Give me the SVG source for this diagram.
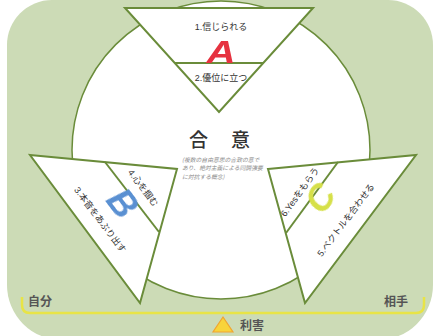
<svg xmlns="http://www.w3.org/2000/svg" width="435" height="336" viewBox="0 0 435 336">
<defs>
<style>
.tri{fill:#fff;stroke:#6a8c3a;stroke-width:2;stroke-linejoin:miter}
.div{fill:none;stroke:#6a8c3a;stroke-width:2}
.lbl{font-family:"Liberation Sans","Noto Sans CJK JP",sans-serif;font-size:9px;fill:#333;text-anchor:middle;dominant-baseline:central}
.big{font-family:"Noto Sans CJK JP",sans-serif;font-size:19px;fill:#333;font-weight:500}
.note{font-family:"Noto Sans CJK JP",sans-serif;font-size:5.8px;fill:#8a8a8a;font-style:italic}
.axis{font-family:"Noto Sans CJK JP",sans-serif;font-size:12px;fill:#555;font-weight:bold}
.letter{font-family:"Liberation Sans",sans-serif;font-weight:bold;font-style:italic;text-anchor:middle;dominant-baseline:central}
</style>
<filter id="soft" x="-30%" y="-30%" width="160%" height="160%"><feGaussianBlur stdDeviation="0.6"/></filter>
</defs>
<path id="bg" d="M52,0 H388 A45,45 0 0 1 433,45 V285 A55,55 0 0 1 378,340 H62 A55,55 0 0 1 7,285 V45 A45,45 0 0 1 52,0 Z" fill="#ccdbb6"/>
<g id="circle"><circle cx="221" cy="150" r="149" fill="#fff" stroke="#6a8c3a" stroke-width="1.5"/></g>
<g id="center-text">
<text class="big" y="147"><tspan x="189">合</tspan> <tspan x="231">意</tspan></text>
<text class="note" x="182" y="162">(複数の自由意思の合致の意で</text>
<text class="note" x="182" y="170.3">あり、絶対主義による同調強要</text>
<text class="note" x="182" y="178.6">に対抗する概念)</text>
</g>
<g id="triA">
<polygon class="tri" points="125,8 313,8 219,112"/>
<line class="div" x1="175" y1="63" x2="263" y2="63"/>
<text class="letter" font-size="31" fill="#e6333f" filter="url(#soft)" transform="translate(221,52) scale(1.3,1)">A</text>
<text class="lbl" x="221" y="27">1.信じられる</text>
<text class="lbl" x="221" y="78">2.優位に立つ</text>
</g>
<g id="triB">
<polygon class="tri" points="30,155 177,169 140,303"/>
<line class="div" x1="105" y1="162" x2="159" y2="232"/>
<text class="letter" font-size="36" fill="#5a90d2" filter="url(#soft)" transform="translate(123,203) rotate(53)">B</text>
<text class="lbl" transform="translate(100,220) rotate(53)">3.本音をあぶり出す</text>
<text class="lbl" transform="translate(143,188) rotate(53)">4.心を掴む</text>
</g>
<g id="triC">
<polygon class="tri" points="268,169 416,155 305,303"/>
<line class="div" x1="338" y1="162" x2="286" y2="233"/>
<text class="letter" font-size="36" fill="#d6e04a" filter="url(#soft)" transform="translate(320,198) rotate(-53)">C</text>
<text class="lbl" transform="translate(300,192) rotate(-54)">6.Yesをもらう</text>
<text class="lbl" transform="translate(346,220) rotate(-53)">5.ベクトルを合わせる</text>
</g>
<g id="connectors">
<path d="M22,297 V305 Q22,313 30,313 H416 Q424,313 424,305 V297" fill="none" stroke="#e8e446" stroke-width="2.5"/>
</g>
<g id="self"><text class="axis" x="28" y="306">自分</text></g>
<g id="other"><text class="axis" x="384" y="306">相手</text></g>
<g id="interest">
<polygon points="223,317 213,332 233,332" fill="#f8d43a" stroke="#f0a530" stroke-width="1.2"/>
<text class="axis" x="240" y="330" font-size="13">利害</text>
</g>
</svg>
